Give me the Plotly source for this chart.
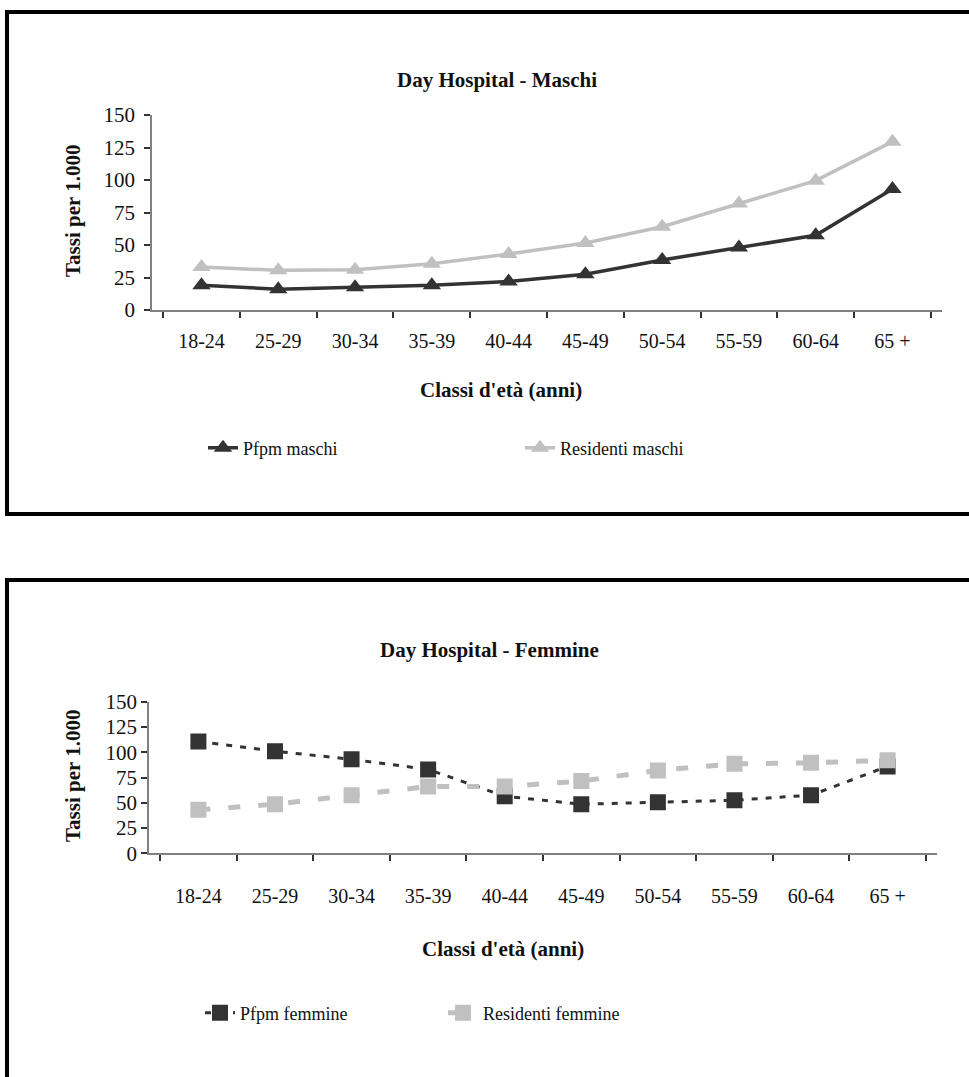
import plotly.graph_objects as go

W, H = 969, 1077

categories = ["18-24", "25-29", "30-34", "35-39", "40-44", "45-49", "50-54", "55-59", "60-64", "65 +"]
pfpm_maschi = [19, 16, 17.5, 19, 22, 27.5, 38.5, 48, 57.5, 93]
residenti_maschi = [33, 30.5, 31, 35.5, 43, 51.5, 64, 82, 99.5, 129.5]
pfpm_femmine = [110.5, 101, 93, 83, 56.5, 48.5, 50.5, 52.5, 57.5, 86]
residenti_femmine = [43, 48.5, 57.5, 66, 66, 71.5, 82, 88.5, 89.5, 92]
y_ticks = [0, 25, 50, 75, 100, 125, 150]

DARK = "#333333"
LIGHT = "#c0c0c0"
TXT = "#111111"
FONT = "'Liberation Serif', 'Times New Roman', serif"


def fx(px):
    return px / W


def fy(py):
    return 1 - py / H


fig = go.Figure()

fig.add_trace(go.Scatter(
    x=categories, y=pfpm_maschi, name="Pfpm maschi", mode="lines+markers",
    line=dict(color=DARK, width=3.5), marker=dict(symbol="triangle-up", size=16, color=DARK),
    xaxis="x", yaxis="y", legend="legend"))
fig.add_trace(go.Scatter(
    x=categories, y=residenti_maschi, name="Residenti maschi", mode="lines+markers",
    line=dict(color=LIGHT, width=3.5), marker=dict(symbol="triangle-up", size=16, color=LIGHT),
    xaxis="x", yaxis="y", legend="legend"))
fig.add_trace(go.Scatter(
    x=categories, y=pfpm_femmine, name="Pfpm femmine", mode="lines+markers",
    line=dict(color=DARK, width=3, dash="6px,8px"), marker=dict(symbol="square", size=16, color=DARK),
    xaxis="x2", yaxis="y2", legend="legend2"))
fig.add_trace(go.Scatter(
    x=categories, y=residenti_femmine, name="Residenti femmine", mode="lines+markers",
    line=dict(color=LIGHT, width=5, dash="12px,18px"), marker=dict(symbol="square", size=16, color=LIGHT),
    xaxis="x2", yaxis="y2", legend="legend2"))


def xax(domain, anchor, standoff):
    return dict(domain=domain, anchor=anchor, type="category", automargin=False,
                showline=True, linecolor="#808080", linewidth=1.5,
                ticks="outside", tickson="boundaries", ticklen=6, tickcolor="#333333", tickwidth=1.5,
                showgrid=False, zeroline=False, ticklabelstandoff=standoff,
                tickfont=dict(family=FONT, size=20, color=TXT))


def yax(domain, anchor, standoff):
    return dict(domain=domain, anchor=anchor, range=[0, 150], tickvals=y_ticks, automargin=False,
                showline=True, linecolor="#808080", linewidth=1.5,
                ticks="outside", ticklen=6, tickcolor="#333333", tickwidth=1.5,
                showgrid=False, zeroline=False, ticklabelstandoff=standoff,
                tickfont=dict(family=FONT, size=21, color=TXT))


def label(text, x, y, size, angle=0):
    return dict(text=text, x=fx(x), y=fy(y), xref="paper", yref="paper", showarrow=False,
                xanchor="center", yanchor="middle", textangle=angle,
                font=dict(family=FONT, size=size, color=TXT))


fig.update_layout(
    width=W, height=H, margin=dict(l=0, r=0, t=0, b=0, autoexpand=False),
    paper_bgcolor="white", plot_bgcolor="white",
    font=dict(family=FONT, color=TXT),
    xaxis=xax([fx(152), fx(942)], "y", 12),
    yaxis=yax([fy(310), fy(115)], "x", 5),
    xaxis2=xax([fx(149), fx(937)], "y2", 24),
    yaxis2=yax([fy(853.3), fy(701.7)], "x2", 0),
    legend=dict(orientation="h", x=fx(203), y=fy(448), xanchor="left", yanchor="middle",
                entrywidth=272, entrywidthmode="pixels",
                font=dict(family=FONT, size=18, color=TXT), bgcolor="rgba(0,0,0,0)"),
    legend2=dict(orientation="h", x=fx(200), y=fy(1013), xanchor="left", yanchor="middle",
                 entrywidth=198, entrywidthmode="pixels",
                 font=dict(family=FONT, size=18, color=TXT), bgcolor="rgba(0,0,0,0)"),
    showlegend=True,
    annotations=[
        label("<b>Day Hospital - Maschi</b>", 497, 80, 21),
        label("<b>Day Hospital - Femmine</b>", 489, 650, 21),
        label("<b>Classi d'età (anni)</b>", 501, 390, 21),
        label("<b>Classi d'età (anni)</b>", 503, 949, 21),
        label("<b>Tassi per 1.000</b>", 73, 211, 21, -90),
        label("<b>Tassi per 1.000</b>", 73, 776, 21, -90),
    ],
    shapes=[
        dict(type="rect", xref="paper", yref="paper", x0=fx(7), x1=fx(990), y0=fy(514), y1=fy(12),
             line=dict(color="black", width=4), fillcolor="rgba(0,0,0,0)"),
        dict(type="rect", xref="paper", yref="paper", x0=fx(7), x1=fx(990), y0=fy(1100), y1=fy(580),
             line=dict(color="black", width=4), fillcolor="rgba(0,0,0,0)"),
    ],
)

fig.write_html("out.html")
